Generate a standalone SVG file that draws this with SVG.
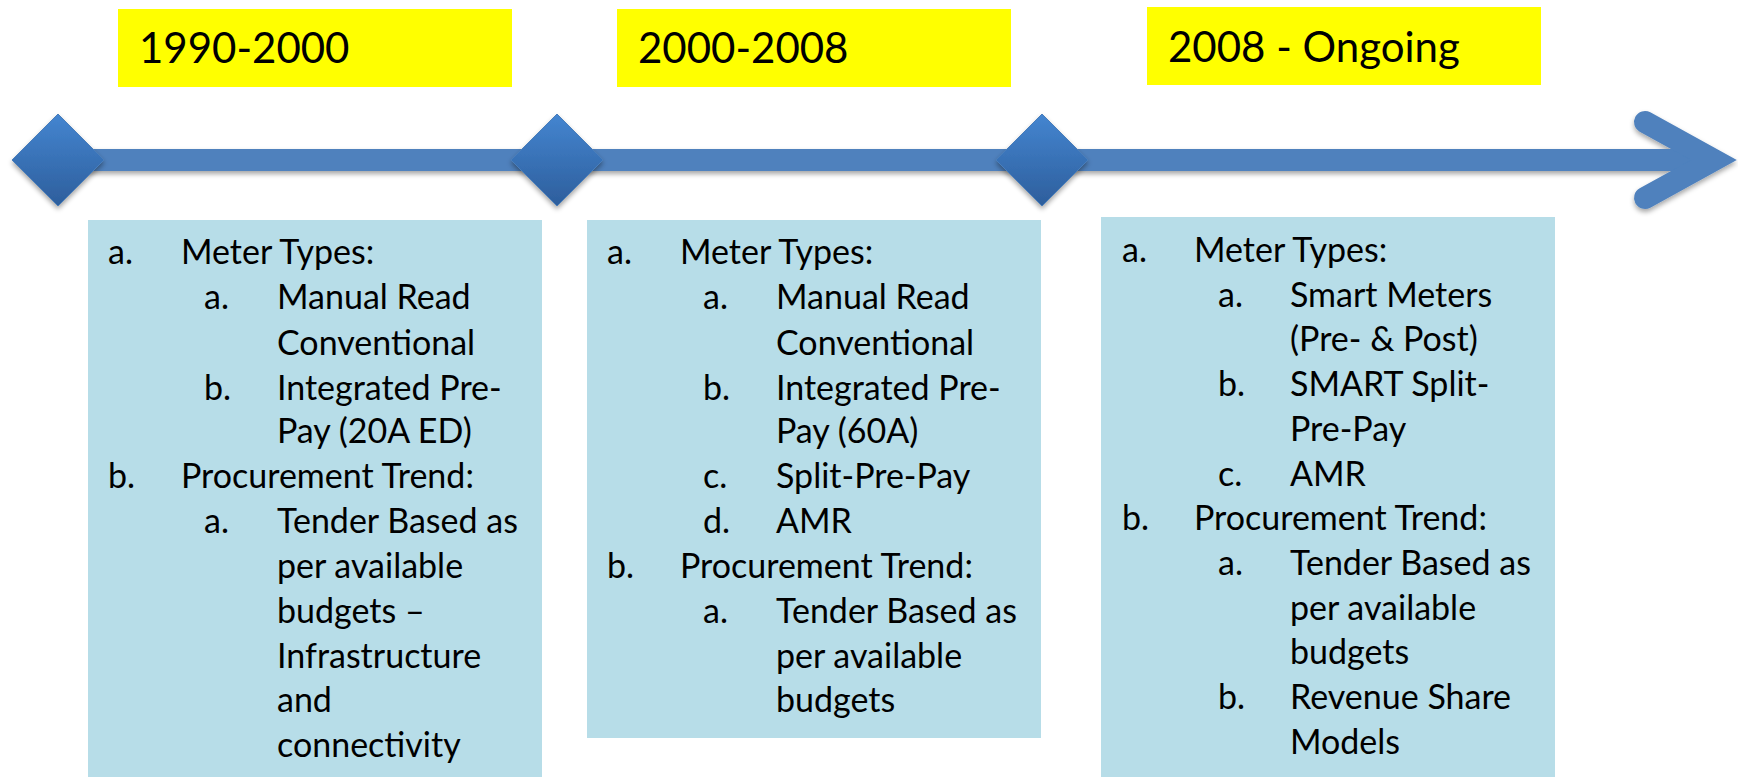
<svg xmlns="http://www.w3.org/2000/svg" width="1738" height="777" viewBox="0 0 1738 777">
<defs>
<linearGradient id="dg" x1="0" y1="0" x2="0" y2="1">
<stop offset="0" stop-color="#4485D0"/>
<stop offset="1" stop-color="#2D5E9C"/>
</linearGradient>
<filter id="sh" x="-20%" y="-20%" width="140%" height="160%">
<feDropShadow dx="0" dy="3" stdDeviation="2.5" flood-color="#000" flood-opacity="0.35"/>
</filter>
</defs>
<style>
.yel{fill:#FFFF00}
.hd{font-family:Lato,"Liberation Sans",sans-serif;font-size:42px;fill:#000}
.box{fill:#B7DDE8}
.tx{font-family:Lato,"Liberation Sans",sans-serif;font-size:34px;fill:#000}
.dia{fill:url(#dg);stroke:#4A7EBB;stroke-width:1;filter:url(#sh)}
.line{fill:none;stroke:#4F81BD}
</style>
<rect width="1738" height="777" fill="#fff"/>

<g id="connectors" filter="url(#sh)">
<rect x="58" y="149" width="1640" height="22" fill="#4F81BD"/>
<polyline class="line" points="1645,122 1714,160 1645,198" stroke-width="22" stroke-linecap="round" stroke-linejoin="miter"/>
</g>

<g id="period1">
<rect class="yel" x="118" y="9" width="394" height="78"/>
<text class="hd" x="139" y="63">1990-2000</text>
</g>
<g id="period2">
<rect class="yel" x="617" y="9" width="394" height="78"/>
<text class="hd" x="638" y="63">2000-2008</text>
</g>
<g id="period3">
<rect class="yel" x="1147" y="7" width="394" height="78"/>
<text class="hd" x="1168" y="62">2008 - Ongoing</text>
</g>

<g id="milestone1"><polygon class="dia" points="58,114 104,160 58,206 12,160"/></g>
<g id="milestone2"><polygon class="dia" points="557,114 603,160 557,206 511,160"/></g>
<g id="milestone3"><polygon class="dia" points="1042,114 1088,160 1042,206 996,160"/></g>

<g id="box1">
<rect class="box" x="88" y="220" width="454" height="560"/>
<g class="tx">
<text x="108" y="264">a.</text><text x="181" y="264">Meter Types:</text>
<text x="204" y="309">a.</text><text x="277" y="309">Manual Read</text>
<text x="277" y="355">Conventional</text>
<text x="204" y="400">b.</text><text x="277" y="400">Integrated Pre-</text>
<text x="277" y="443">Pay (20A ED)</text>
<text x="108" y="488">b.</text><text x="181" y="488">Procurement Trend:</text>
<text x="204" y="533">a.</text><text x="277" y="533">Tender Based as</text>
<text x="277" y="578">per available</text>
<text x="277" y="623">budgets –</text>
<text x="277" y="668">Infrastructure</text>
<text x="277" y="712">and</text>
<text x="277" y="757">connectivity</text>
</g>
</g>

<g id="box2">
<rect class="box" x="587" y="220" width="454" height="518"/>
<g class="tx">
<text x="607" y="264">a.</text><text x="680" y="264">Meter Types:</text>
<text x="703" y="309">a.</text><text x="776" y="309">Manual Read</text>
<text x="776" y="355">Conventional</text>
<text x="703" y="400">b.</text><text x="776" y="400">Integrated Pre-</text>
<text x="776" y="443">Pay (60A)</text>
<text x="703" y="488">c.</text><text x="776" y="488">Split-Pre-Pay</text>
<text x="703" y="533">d.</text><text x="776" y="533">AMR</text>
<text x="607" y="578">b.</text><text x="680" y="578">Procurement Trend:</text>
<text x="703" y="623">a.</text><text x="776" y="623">Tender Based as</text>
<text x="776" y="668">per available</text>
<text x="776" y="712">budgets</text>
</g>
</g>

<g id="box3">
<rect class="box" x="1101" y="217" width="454" height="563"/>
<g class="tx">
<text x="1122" y="262">a.</text><text x="1194" y="262">Meter Types:</text>
<text x="1218" y="307">a.</text><text x="1290" y="307">Smart Meters</text>
<text x="1290" y="351">(Pre- &amp; Post)</text>
<text x="1218" y="396">b.</text><text x="1290" y="396">SMART Split-</text>
<text x="1290" y="441">Pre-Pay</text>
<text x="1218" y="486">c.</text><text x="1290" y="486">AMR</text>
<text x="1122" y="530">b.</text><text x="1194" y="530">Procurement Trend:</text>
<text x="1218" y="575">a.</text><text x="1290" y="575">Tender Based as</text>
<text x="1290" y="620">per available</text>
<text x="1290" y="664">budgets</text>
<text x="1218" y="709">b.</text><text x="1290" y="709">Revenue Share</text>
<text x="1290" y="754">Models</text>
</g>
</g>
</svg>
